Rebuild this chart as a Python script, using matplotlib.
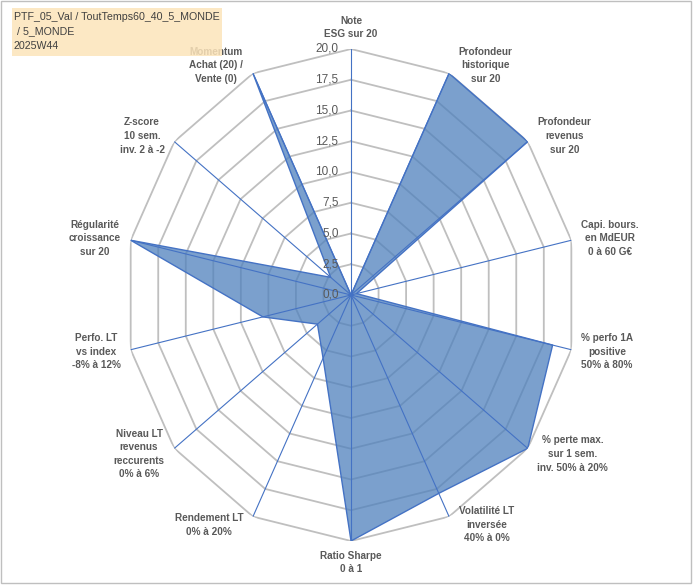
import numpy as np
import matplotlib
matplotlib.use('Agg')
import matplotlib.pyplot as plt
from matplotlib.patches import Rectangle

# Données du radar (valeurs sur 20)
categories = [
    "Note\nESG sur 20",
    "Profondeur\nhistorique\nsur 20",
    "Profondeur\nrevenus\nsur 20",
    "Capi. bours.\nen MdEUR\n0 à 60 G€",
    "% perfo 1A\npositive\n50% à 80%",
    "% perte max.\nsur 1 sem.\ninv. 50% à 20%",
    "Volatilité LT\ninversée\n40% à 0%",
    "Ratio Sharpe\n0 à 1",
    "Rendement LT\n0% à 20%",
    "Niveau LT\nrevenus\nreccurents\n0% à 6%",
    "Perfo. LT\nvs index\n-8% à 12%",
    "Régularité\ncroissance\nsur 20",
    "Z-score\n10 sem.\ninv. 2 à -2",
    "Momentum\nAchat (20) /\nVente (0)",
]
valeurs = [0, 20, 20, 0.5, 18.3, 20, 17.9, 20, 5.7, 3.8, 8.0, 20, 2.3, 20]
niveaux = [2.5, 5.0, 7.5, 10.0, 12.5, 15.0, 17.5, 20.0]
tick_labels = ["0,0", "2,5", "5,0", "7,5", "10,0", "12,5", "15,0", "17,5", "20,0"]
titre = ["PTF_05_Val / ToutTemps60_40_5_MONDE", " / 5_MONDE", "2025W44"]

plt.rcParams['font.family'] = ['Liberation Sans', 'DejaVu Sans']

n = len(categories)
angles = np.arange(n) * 2 * np.pi / n
angles_f = np.append(angles, angles[0])
vals_f = np.append(valeurs, valeurs[0])

fig = plt.figure(figsize=(7, 5.86), dpi=100)
ax = fig.add_axes([0.1786, 0.0768, 0.6457, 0.8396], projection='polar')
ax.set_aspect('auto')
ax.set_theta_zero_location('N')
ax.set_theta_direction(-1)
ax.set_ylim(0, 20)
ax.grid(False)
ax.spines['polar'].set_visible(False)
ax.set_xticks([])
ax.set_yticks([])
ax.patch.set_alpha(0)

# grille polygonale
for lv in niveaux:
    ax.plot(angles_f, [lv] * (n + 1), color='#BFBFBF', lw=1.3, zorder=1)

# série
ax.fill(angles_f, vals_f, color='#4F81BD', alpha=0.75, zorder=2, lw=0)
ax.plot(angles_f, vals_f, color='#4472C4', lw=1.0, zorder=3)

# axes radiaux
for a in angles:
    ax.plot([a, a], [0, 20], color='#4472C4', lw=0.8, zorder=4)

# étiquettes de valeurs
for lv, txt in zip([0] + niveaux, tick_labels):
    ax.annotate(txt, xy=(0, lv), xytext=(-9, 0), textcoords='offset points',
                ha='right', va='center', fontsize=8.5, color='#595959', zorder=6)

# étiquettes des catégories
pad = 7
for a, lab in zip(angles, categories):
    s, c = np.sin(a), np.cos(a)
    if abs(s) < 0.05:
        ha = 'center'
        va = 'bottom' if c > 0 else 'top'
        dx, dy = 0, pad * np.sign(c)
    else:
        ha = 'left' if s > 0 else 'right'
        va = 'center'
        dx, dy = pad * np.sign(s), 6.5 * c
    ax.annotate(lab, xy=(a, 20), xytext=(dx, dy), textcoords='offset points',
                ha=ha, va=va, multialignment='center', fontsize=7.2,
                fontweight='bold', color='#595959', linespacing=1.45, zorder=6,
                annotation_clip=False)

# cadre et encadré titre
fig.patches.append(Rectangle((0.002, 0.005), 0.985, 0.993, transform=fig.transFigure,
                             fill=False, edgecolor='#BFBFBF', lw=1.0))
fig.patches.append(Rectangle((12 / 700, 1 - 56 / 586), 210 / 700, 48 / 586,
                             transform=fig.transFigure, facecolor='#FCE4BA',
                             edgecolor='none', alpha=0.85, zorder=10))
for i, ligne in enumerate(titre):
    fig.text(14 / 700, 1 - (17 + 14.5 * i) / 586, ligne, ha='left', va='center',
             fontsize=7.7, color='#404040', zorder=11)

fig.savefig('out.png', dpi=100)
